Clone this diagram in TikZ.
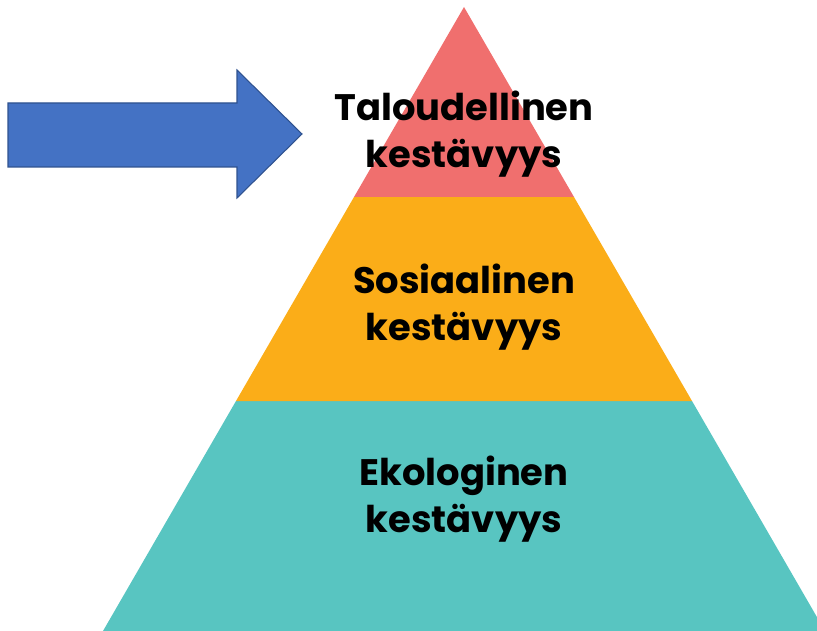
\documentclass[tikz,border=0pt]{standalone}
\usepackage{fontspec}
\usepackage{xcolor}
\usepackage{tikz}
\usetikzlibrary{positioning, calc}
\newfontfamily\levelfont{Poppins}
\definecolor{toppink}{HTML}{F06F6E}
\definecolor{midorange}{HTML}{FBAD18}
\definecolor{baseteal}{HTML}{58C5C1}
\definecolor{arrowblue}{HTML}{4472C4}
\definecolor{arrowedge}{HTML}{2F528F}
\tikzset{
    level/.style={align=center, font=\levelfont\bfseries\fontsize{21}{26.7}\selectfont, text=black},
}

\begin{document}
\begin{tikzpicture}[x=0.02cm, y=-0.02cm]
    \useasboundingbox (0,0) rectangle (817,631);
    \begin{scope}
        \clip (0,0) rectangle (817,631);
        % pyramid bands
        \fill[baseteal] (236,401) -- (692,401) -- (825,631) -- (103,631) -- cycle;
        \fill[midorange] (354,197) -- (574,197) -- (692,401) -- (236,401) -- cycle;
        \fill[toppink] (464,7) -- (574,197) -- (354,197) -- cycle;
    \end{scope}
    % arrow pointing at the top level
    \draw[arrowedge, fill=arrowblue, line width=0.6pt]
        (8,103) -- (237,103) -- (237,70) -- (302,134) -- (237,198) -- (237,167) -- (8,167) -- cycle;
    \node[level] (talous) at (464,134) {Taloudellinen\\kestävyys};
    \node[level] (sosiaali) at (464,307) {Sosiaalinen\\kestävyys};
    \node[level] (ekologia) at (464,499) {Ekologinen\\kestävyys};
\end{tikzpicture}
\end{document}
